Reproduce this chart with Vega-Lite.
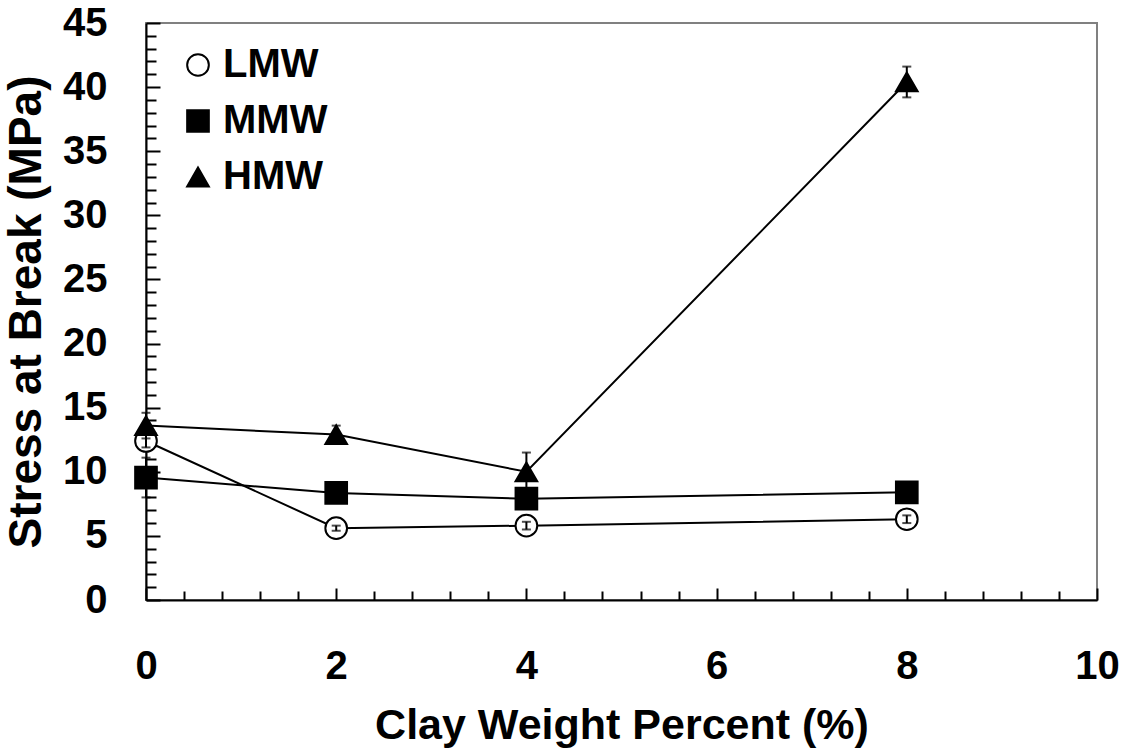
{
  "$schema": "https://vega.github.io/schema/vega-lite/v6.json",
  "width": 951,
  "height": 577,
  "autosize": {"type": "none"},
  "padding": {"left": 146, "top": 23, "right": 31, "bottom": 154},
  "background": "white",
  "config": {
    "font": "Liberation Sans",
    "view": {"stroke": "#808080", "strokeWidth": 2},
    "axis": {"grid": false, "domainColor": "black", "domainWidth": 2, "tickColor": "black", "tickWidth": 2, "labelFont": "Liberation Sans", "labelFontWeight": "bold", "labelFontSize": 40, "labelColor": "black", "titleFont": "Liberation Sans", "titleFontWeight": "bold", "titleFontSize": 43, "titleColor": "black"}
  },
  "data": {
    "values": [
      {"series": "LMW", "x": 0, "y": 12.4, "lo": 11.9, "hi": 12.9},
      {"series": "LMW", "x": 2, "y": 5.6, "lo": 5.4, "hi": 5.8},
      {"series": "LMW", "x": 4, "y": 5.8, "lo": 5.5, "hi": 6.1},
      {"series": "LMW", "x": 8, "y": 6.3, "lo": 6.0, "hi": 6.6},
      {"series": "MMW", "x": 0, "y": 9.55, "lo": 8.0, "hi": 11.1},
      {"series": "MMW", "x": 2, "y": 8.35, "lo": 8.05, "hi": 8.65},
      {"series": "MMW", "x": 4, "y": 7.9, "lo": 7.5, "hi": 8.3},
      {"series": "MMW", "x": 8, "y": 8.4, "lo": 8.1, "hi": 8.7},
      {"series": "HMW", "x": 0, "y": 13.6, "lo": 12.6, "hi": 14.6},
      {"series": "HMW", "x": 2, "y": 12.9, "lo": 12.3, "hi": 13.6},
      {"series": "HMW", "x": 4, "y": 10.0, "lo": 8.5, "hi": 11.5},
      {"series": "HMW", "x": 8, "y": 40.4, "lo": 39.2, "hi": 41.6}
    ]
  },
  "encoding": {
    "x": {
      "field": "x", "type": "quantitative",
      "scale": {"domain": [0, 10], "nice": false, "zero": false},
      "axis": {
        "title": "Clay Weight Percent (%)",
        "values": [0, 0.4, 0.8, 1.2, 1.6, 2, 2.4, 2.8, 3.2, 3.6, 4, 4.4, 4.8, 5.2, 5.6, 6, 6.4, 6.8, 7.2, 7.6, 8, 8.4, 8.8, 9.2, 9.6, 10],
        "labelExpr": "abs(datum.value - round(datum.value / 2) * 2) < 0.01 ? format(datum.value, 'd') : ''",
        "tickSize": {"condition": {"test": "abs(datum.value - round(datum.value / 2) * 2) < 0.01", "value": -12}, "value": -9},
        "labelPadding": 58,
        "labelFlush": false,
        "labelOverlap": false,
        "titlePadding": 15
      }
    },
    "y": {
      "field": "y", "type": "quantitative",
      "scale": {"domain": [0, 45], "nice": false},
      "axis": {
        "title": "Stress at Break (MPa)",
        "titleFontSize": 46,
        "values": [0,1,2,3,4,5,6,7,8,9,10,11,12,13,14,15,16,17,18,19,20,21,22,23,24,25,26,27,28,29,30,31,32,33,34,35,36,37,38,39,40,41,42,43,44,45],
        "labelExpr": "datum.value % 5 === 0 ? format(datum.value, 'd') : ''",
        "tickSize": {"condition": {"test": "datum.value % 5 === 0", "value": -14}, "value": -10},
        "labelPadding": 53,
        "labelFlush": false,
        "labelOverlap": false,
        "titlePadding": 12
      }
    }
  },
  "layer": [
    {
      "mark": {"type": "line", "color": "black", "strokeWidth": 2},
      "encoding": {"detail": {"field": "series"}}
    },
    {
      "mark": {"type": "point", "filled": false, "strokeWidth": 2, "size": 470, "opacity": 1},
      "encoding": {
        "shape": {"field": "series", "type": "nominal", "sort": ["LMW", "MMW", "HMW"], "scale": {"domain": ["LMW", "MMW", "HMW"], "range": ["circle", "square", "triangle-up"]},
          "legend": {"title": null, "orient": "none", "legendX": 32, "legendY": 22, "padding": 0, "labelFont": "Liberation Sans", "labelFontWeight": "bold", "labelFontSize": 40, "labelColor": "black", "symbolSize": 470, "symbolStrokeWidth": 2, "rowPadding": 16, "labelOffset": 5, "symbolOpacity": 1}},
        "fill": {"field": "series", "type": "nominal", "sort": ["LMW", "MMW", "HMW"], "scale": {"domain": ["LMW", "MMW", "HMW"], "range": ["white", "black", "black"]}},
        "stroke": {"field": "series", "type": "nominal", "sort": ["LMW", "MMW", "HMW"], "scale": {"domain": ["LMW", "MMW", "HMW"], "range": ["black", "black", "black"]}}
      }
    },
    {
      "mark": {"type": "rule", "color": "black", "strokeWidth": 2},
      "encoding": {"y": {"field": "lo", "type": "quantitative"}, "y2": {"field": "hi"}}
    },
    {
      "mark": {"type": "tick", "color": "black", "orient": "horizontal", "size": 9, "thickness": 2},
      "encoding": {"y": {"field": "lo", "type": "quantitative"}}
    },
    {
      "mark": {"type": "tick", "color": "black", "orient": "horizontal", "size": 9, "thickness": 2},
      "encoding": {"y": {"field": "hi", "type": "quantitative"}}
    }
  ]
}
